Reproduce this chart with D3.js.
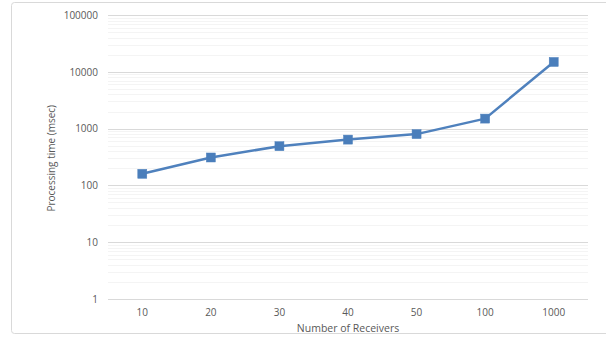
<!DOCTYPE html>
<html>
<head>
<meta charset="utf-8">
<script src="https://cdn.jsdelivr.net/npm/d3@7"></script>
<style>
  html, body { margin: 0; padding: 0; background: #fff; }
  svg { display: block; }
  text { font-family: "Open Sans", "Noto Sans", sans-serif; fill: #595959; }
</style>
</head>
<body>
<script>
// Processing time for different receiver counts (log scale)
const categories = ["10", "20", "30", "40", "50", "100", "1000"];
const times = [160, 310, 490, 640, 800, 1500, 14900];
const yTicks = [1, 10, 100, 1000, 10000, 100000];

const W = 606, H = 340;
const margin = { left: 108, right: 18, top: 15, bottom: 41 };

const svg = d3.select("body").append("svg")
  .attr("width", W).attr("height", H);

// chart frame
svg.append("rect")
  .attr("x", 11.5).attr("y", 2.5)
  .attr("width", 620).attr("height", 331)
  .attr("rx", 3)
  .attr("fill", "#fff")
  .attr("stroke", "#d9d9d9");

const x = d3.scaleBand()
  .domain(categories)
  .range([margin.left, W - margin.right]);

const y = d3.scaleLog()
  .domain([1, 100000])
  .range([H - margin.bottom, margin.top]);

// minor gridlines at 2..9 within each decade
const minor = [];
for (let d = 1; d < 100000; d *= 10) {
  for (let k = 2; k <= 9; k++) minor.push(d * k);
}
svg.append("g").selectAll("line").data(minor).join("line")
  .attr("x1", margin.left).attr("x2", W - margin.right)
  .attr("y1", d => Math.round(y(d)) + 0.5)
  .attr("y2", d => Math.round(y(d)) + 0.5)
  .attr("stroke", "#f4f4f4");

// major gridlines
svg.append("g").selectAll("line").data(yTicks).join("line")
  .attr("x1", margin.left).attr("x2", W - margin.right)
  .attr("y1", d => Math.round(y(d)) + 0.5)
  .attr("y2", d => Math.round(y(d)) + 0.5)
  .attr("stroke", "#d9d9d9");

// y axis labels
const yAxis = d3.axisLeft(y).tickValues(yTicks).tickFormat(d3.format("d")).tickSize(0).tickPadding(10);
const gy = svg.append("g").attr("transform", `translate(${margin.left},0)`).call(yAxis);
gy.select(".domain").remove();
gy.selectAll("text").style("font-size", "10px").attr("fill", "#595959");

// x axis labels
const xAxis = d3.axisBottom(x).tickSize(0).tickPadding(10);
const gx = svg.append("g").attr("transform", `translate(0,${H - margin.bottom})`).call(xAxis);
gx.select(".domain").remove();
gx.selectAll("text").style("font-size", "10px").attr("fill", "#595959");

// axis titles
svg.append("text")
  .attr("x", x.range()[0] + (x.range()[1] - x.range()[0]) / 2)
  .attr("y", 331.5)
  .attr("text-anchor", "middle")
  .style("font-size", "10.5px")
  .text("Number of Receivers");

svg.append("text")
  .attr("transform", `translate(55,${y(300)}) rotate(-90)`)
  .attr("text-anchor", "middle")
  .style("font-size", "10px")
  .text("Processing time (msec)");

// series line
const cx = d => x(d.c) + x.bandwidth() / 2;
const data = categories.map((c, i) => ({ c, v: times[i] }));

svg.append("path")
  .datum(data)
  .attr("fill", "none")
  .attr("stroke", "#4f81bd")
  .attr("stroke-width", 2.5)
  .attr("stroke-linejoin", "round")
  .attr("d", d3.line().x(cx).y(d => y(d.v)));

// square markers
const ms = 9;
svg.append("g").selectAll("rect").data(data).join("rect")
  .attr("x", d => cx(d) - ms / 2)
  .attr("y", d => y(d.v) - ms / 2)
  .attr("width", ms).attr("height", ms)
  .attr("fill", "#4a7ebb")
  .attr("stroke", "#4f81bd")
  .attr("stroke-width", 0.5);
</script>
</body>
</html>
